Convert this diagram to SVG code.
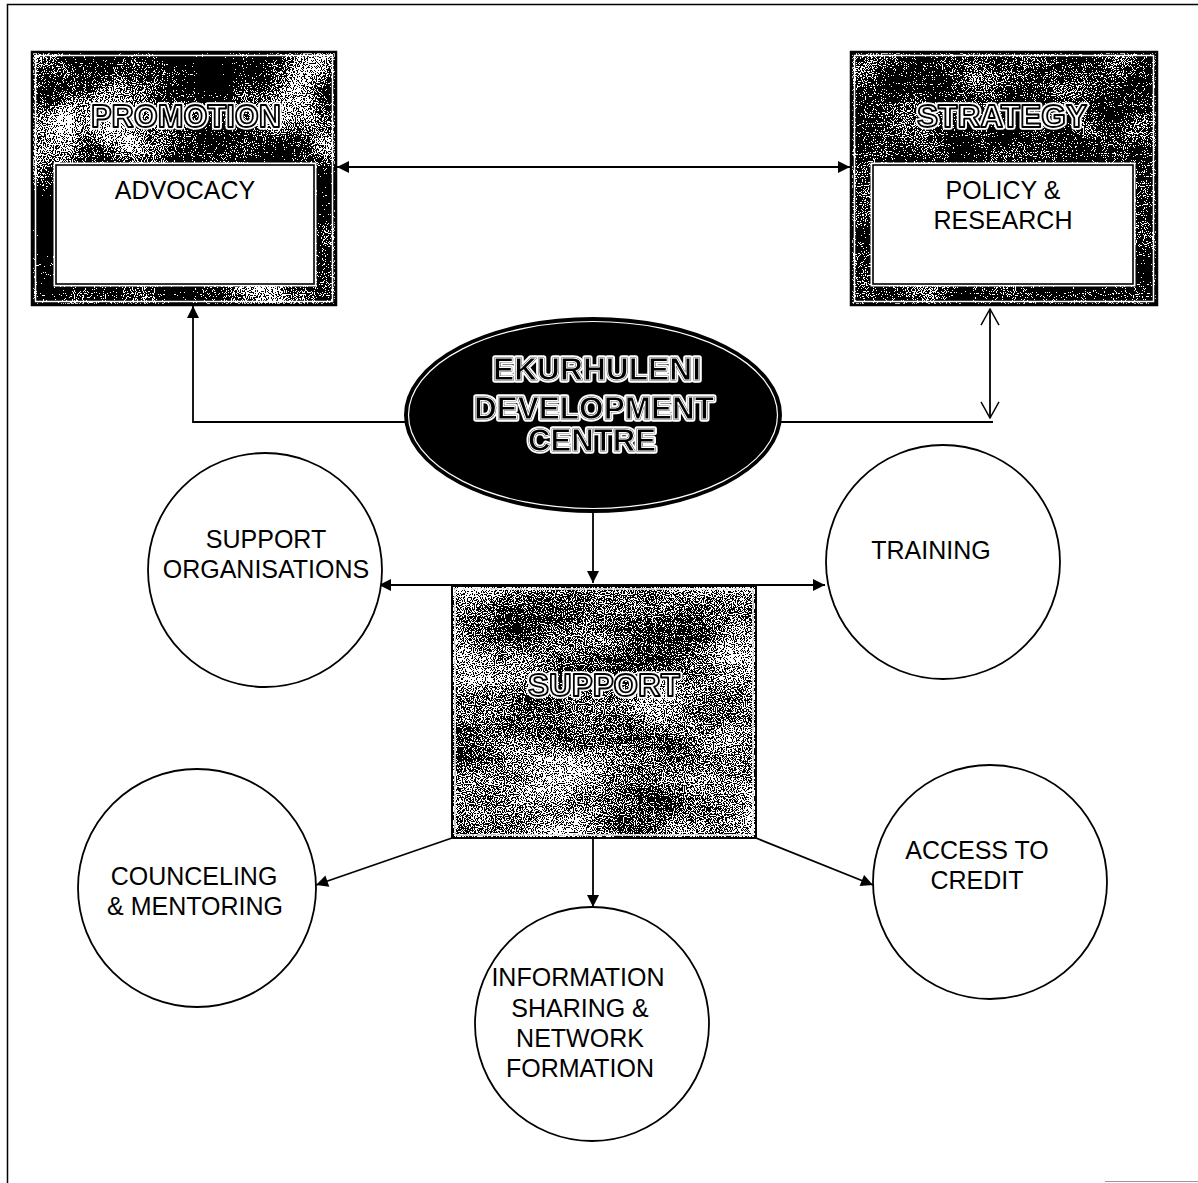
<svg xmlns="http://www.w3.org/2000/svg" xmlns:xlink="http://www.w3.org/1999/xlink" width="1198" height="1183" viewBox="0 0 1198 1183">
  <style>
    .lbl { font-family: "Liberation Sans", Arial, sans-serif; font-size: 25px; text-anchor: middle; fill: #000; }
    .title { font-family: "Liberation Sans", Arial, sans-serif; font-weight: bold; font-size: 31px; text-anchor: middle; }
    .halo { fill: none; stroke: #fff; stroke-width: 5.5; stroke-linejoin: round; }
    .ink { fill: #fff; stroke: #000; stroke-width: 1.8; stroke-linejoin: round; }
    .inkDark { fill: #000; stroke: #000; stroke-width: 1.6; stroke-linejoin: round; }
    .edge { fill: none; stroke: #fff; stroke-width: 1; }
    .circle { fill: #fff; stroke: #000; stroke-width: 1.8; }
    .frame { fill: none; stroke: #000; stroke-width: 2.5; }
    .inset { fill: none; stroke: #fff; stroke-width: 1.5; }
    .panel { fill: #fff; stroke: #000; stroke-width: 1.6; }
    .panelHalo { fill: none; stroke: #fff; stroke-width: 5; }
    .conn { fill: none; stroke: #000; stroke-width: 1.8; }
  </style>
  <defs>
    <!-- speckled black/white grain: fine noise + slow patches, thresholded -->
    <filter id="grainDark" x="0" y="0" width="1" height="1" color-interpolation-filters="sRGB">
      <feTurbulence type="fractalNoise" baseFrequency="0.9" numOctaves="1" seed="3" result="fineRaw"/>
      <feColorMatrix in="fineRaw" type="matrix" values="1 0 0 0 0 1 0 0 0 0 1 0 0 0 0 0 0 0 0 1" result="fine"/>
      <feTurbulence type="fractalNoise" baseFrequency="0.012" numOctaves="3" seed="11" result="coarseRaw"/>
      <feColorMatrix in="coarseRaw" type="matrix" values="1 0 0 0 0 1 0 0 0 0 1 0 0 0 0 0 0 0 0 1" result="coarse"/>
      <feComposite in="fine" in2="coarse" operator="arithmetic" k1="0" k2="2.6" k3="1.8" k4="-2.0"/>
      <feComponentTransfer>
        <feFuncR type="discrete" tableValues="0 1"/>
        <feFuncG type="discrete" tableValues="0 1"/>
        <feFuncB type="discrete" tableValues="0 1"/>
      </feComponentTransfer>
    </filter>
    <filter id="grainDarker" x="0" y="0" width="1" height="1" color-interpolation-filters="sRGB">
      <feTurbulence type="fractalNoise" baseFrequency="0.9" numOctaves="1" seed="5" result="fineRaw"/>
      <feColorMatrix in="fineRaw" type="matrix" values="1 0 0 0 0 1 0 0 0 0 1 0 0 0 0 0 0 0 0 1" result="fine"/>
      <feTurbulence type="fractalNoise" baseFrequency="0.02" numOctaves="3" seed="21" result="coarseRaw"/>
      <feColorMatrix in="coarseRaw" type="matrix" values="1 0 0 0 0 1 0 0 0 0 1 0 0 0 0 0 0 0 0 1" result="coarse"/>
      <feComposite in="fine" in2="coarse" operator="arithmetic" k1="0" k2="2.6" k3="0.9" k4="-1.56"/>
      <feComponentTransfer>
        <feFuncR type="discrete" tableValues="0 1"/>
        <feFuncG type="discrete" tableValues="0 1"/>
        <feFuncB type="discrete" tableValues="0 1"/>
      </feComponentTransfer>
    </filter>
    <filter id="grainMid" x="0" y="0" width="1" height="1" color-interpolation-filters="sRGB">
      <feTurbulence type="fractalNoise" baseFrequency="0.9" numOctaves="1" seed="8" result="fineRaw"/>
      <feColorMatrix in="fineRaw" type="matrix" values="1 0 0 0 0 1 0 0 0 0 1 0 0 0 0 0 0 0 0 1" result="fine"/>
      <feTurbulence type="fractalNoise" baseFrequency="0.01 0.02" numOctaves="3" seed="14" result="coarseRaw"/>
      <feColorMatrix in="coarseRaw" type="matrix" values="1 0 0 0 0 1 0 0 0 0 1 0 0 0 0 0 0 0 0 1" result="coarse"/>
      <feComposite in="fine" in2="coarse" operator="arithmetic" k1="0" k2="2.8" k3="0.9" k4="-1.40"/>
      <feComponentTransfer>
        <feFuncR type="discrete" tableValues="0 1"/>
        <feFuncG type="discrete" tableValues="0 1"/>
        <feFuncB type="discrete" tableValues="0 1"/>
      </feComponentTransfer>
    </filter>
    <!-- pass-through filter so outlined titles render with greyscale antialiasing -->
    <filter id="flat" x="-5%" y="-20%" width="110%" height="140%">
      <feOffset dx="0" dy="0"/>
    </filter>

    <marker id="tri" viewBox="0 0 10 10" refX="10" refY="5" markerWidth="14" markerHeight="12" markerUnits="userSpaceOnUse" orient="auto-start-reverse">
      <path d="M0,0 L10,5 L0,10 Z" fill="#000"/>
    </marker>
    <marker id="chev" viewBox="0 0 20 22" refX="19" refY="11" markerWidth="18" markerHeight="22" markerUnits="userSpaceOnUse" orient="auto-start-reverse">
      <path d="M1,1 L19,11 L1,21" fill="none" stroke="#000" stroke-width="1.6"/>
    </marker>

    <!-- outlined headline texts, painted in layers (halo + ink) -->
    <text id="t-promotion" class="title" x="186" y="127" textLength="190" lengthAdjust="spacingAndGlyphs">PROMOTION</text>
    <text id="t-strategy" class="title" x="1002" y="127" textLength="170" lengthAdjust="spacingAndGlyphs">STRATEGY</text>
    <text id="t-support" class="title" x="604" y="696" textLength="152" lengthAdjust="spacingAndGlyphs">SUPPORT</text>
    <text id="t-edc1" class="title" x="597" y="380" textLength="208" lengthAdjust="spacingAndGlyphs">EKURHULENI</text>
    <text id="t-edc2" class="title" x="594" y="419" textLength="240" lengthAdjust="spacingAndGlyphs">DEVELOPMENT</text>
    <text id="t-edc3" class="title" x="592" y="451" textLength="128" lengthAdjust="spacingAndGlyphs">CENTRE</text>
  </defs>

  <rect width="1198" height="1183" fill="#fff"/>

  <!-- page frame -->
  <g id="page-frame" fill="none">
    <path d="M7.5,1183 V4.5 H1198" stroke="#000" stroke-width="1.5"/>
    <path d="M1105,1181.5 H1198" stroke="#999" stroke-width="1"/>
  </g>

  <!-- connectors -->
  <g id="connectors">
    <line class="conn" x1="337" y1="167" x2="850" y2="167" marker-start="url(#tri)" marker-end="url(#tri)"/>
    <path class="conn" d="M406,422 H193 V306" marker-end="url(#tri)"/>
    <path class="conn" d="M779,422 H993"/>
    <line class="conn" x1="990" y1="309" x2="990" y2="418" stroke-width="1.5" marker-start="url(#chev)" marker-end="url(#chev)"/>
    <line class="conn" x1="593" y1="512" x2="593" y2="583" marker-end="url(#tri)"/>
    <line class="conn" x1="379" y1="585" x2="825" y2="585" marker-start="url(#tri)" marker-end="url(#tri)"/>
    <line class="conn" x1="452" y1="838" x2="316" y2="885" marker-end="url(#tri)"/>
    <line class="conn" x1="593" y1="838" x2="593" y2="907" marker-end="url(#tri)"/>
    <line class="conn" x1="756" y1="838" x2="873" y2="885" marker-end="url(#tri)"/>
  </g>

  <!-- PROMOTION / ADVOCACY -->
  <g id="node-promotion">
    <rect x="32" y="52" width="304" height="253" filter="url(#grainDark)"/>
    <rect class="inset" x="35.5" y="55.5" width="297" height="246"/>
    <rect class="frame" x="32" y="52" width="304" height="253"/>
    <g filter="url(#flat)">
      <use xlink:href="#t-promotion" class="halo"/>
      <use xlink:href="#t-promotion" class="ink"/>
    </g>
    <rect class="panelHalo" x="56" y="165" width="258" height="119"/>
    <rect class="panel" x="56" y="165" width="258" height="119"/>
    <text class="lbl" x="185" y="199">ADVOCACY</text>
  </g>

  <!-- STRATEGY / POLICY & RESEARCH -->
  <g id="node-strategy">
    <rect x="851" y="52" width="306" height="253" filter="url(#grainDarker)"/>
    <rect class="inset" x="854.5" y="55.5" width="299" height="246"/>
    <rect class="frame" x="851" y="52" width="306" height="253"/>
    <g filter="url(#flat)">
      <use xlink:href="#t-strategy" class="halo"/>
      <use xlink:href="#t-strategy" class="ink"/>
    </g>
    <rect class="panelHalo" x="873" y="165" width="260" height="119"/>
    <rect class="panel" x="873" y="165" width="260" height="119"/>
    <text class="lbl" x="1003" y="199">POLICY &amp;</text>
    <text class="lbl" x="1003" y="229">RESEARCH</text>
  </g>

  <!-- central hub -->
  <g id="node-edc">
    <ellipse cx="593" cy="415" rx="188" ry="97" fill="#000" stroke="#000" stroke-width="2"/>
    <ellipse cx="593" cy="415" rx="184.5" ry="93.5" fill="none" stroke="#fff" stroke-width="1.2"/>
    <g filter="url(#flat)">
      <use xlink:href="#t-edc1" class="halo"/>
      <use xlink:href="#t-edc1" class="inkDark"/>
      <use xlink:href="#t-edc1" class="edge"/>
      <use xlink:href="#t-edc2" class="halo"/>
      <use xlink:href="#t-edc2" class="inkDark"/>
      <use xlink:href="#t-edc2" class="edge"/>
      <use xlink:href="#t-edc3" class="halo"/>
      <use xlink:href="#t-edc3" class="inkDark"/>
      <use xlink:href="#t-edc3" class="edge"/>
    </g>
  </g>

  <!-- SUPPORT -->
  <g id="node-support">
    <rect x="452" y="586" width="304" height="252" filter="url(#grainMid)"/>
    <rect class="inset" x="455" y="589" width="298" height="246"/>
    <rect x="452" y="586" width="304" height="252" fill="none" stroke="#000" stroke-width="2"/>
    <g filter="url(#flat)">
      <use xlink:href="#t-support" class="halo"/>
      <use xlink:href="#t-support" class="ink"/>
    </g>
  </g>

  <g id="node-support-orgs">
    <circle class="circle" cx="265" cy="570" r="117"/>
    <text class="lbl" x="266" y="548">SUPPORT</text>
    <text class="lbl" x="266" y="578">ORGANISATIONS</text>
  </g>

  <g id="node-training">
    <circle class="circle" cx="943" cy="562" r="117"/>
    <text class="lbl" x="931" y="559">TRAINING</text>
  </g>

  <g id="node-counceling">
    <circle class="circle" cx="197" cy="888" r="119"/>
    <text class="lbl" x="194" y="885">COUNCELING</text>
    <text class="lbl" x="195" y="915">&amp; MENTORING</text>
  </g>

  <g id="node-information">
    <circle class="circle" cx="592" cy="1024" r="117"/>
    <text class="lbl" x="578" y="986">INFORMATION</text>
    <text class="lbl" x="580" y="1017">SHARING &amp;</text>
    <text class="lbl" x="580" y="1047">NETWORK</text>
    <text class="lbl" x="580" y="1077">FORMATION</text>
  </g>

  <g id="node-access">
    <circle class="circle" cx="990" cy="882" r="117"/>
    <text class="lbl" x="977" y="859">ACCESS TO</text>
    <text class="lbl" x="977" y="889">CREDIT</text>
  </g>
</svg>
